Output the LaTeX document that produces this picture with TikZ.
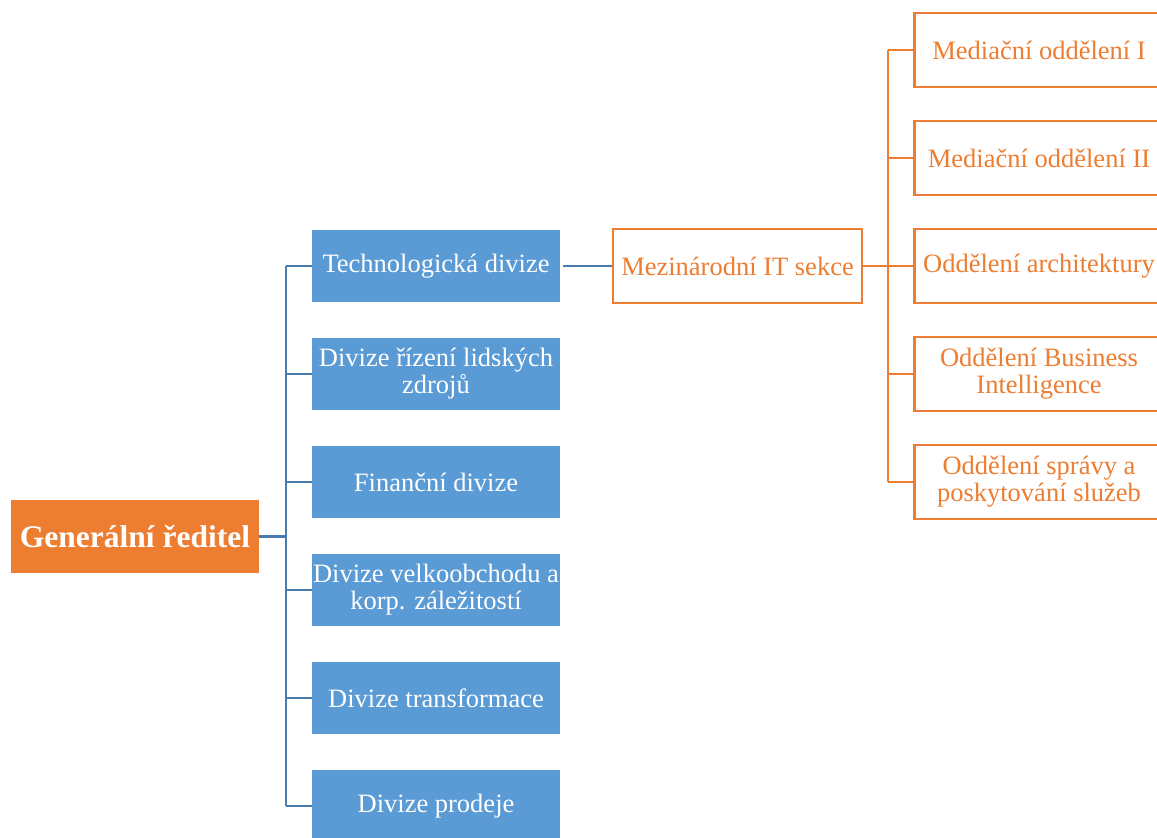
\documentclass[tikz,border=0pt]{standalone}
\usepackage{fontspec}
\setmainfont{Liberation Serif}
\definecolor{orgfill}{RGB}{237,125,49}
\definecolor{bluefill}{RGB}{91,155,213}
\definecolor{blueline}{RGB}{72,124,176}
\begin{document}
\begin{tikzpicture}[x=1pt,y=-1pt,
  rootbox/.style={fill=orgfill,draw=none,minimum width=248pt,minimum height=73pt,
    inner sep=0pt,text=white,font=\fontsize{31.5}{32}\selectfont\bfseries},
  divbox/.style={fill=bluefill,draw=none,minimum width=248pt,minimum height=72pt,
    inner sep=0pt,text=white,align=center,font=\fontsize{26.5}{27}\selectfont},
  secbox/.style={fill=white,draw=orgfill,line width=2.8pt,minimum width=249pt,minimum height=74pt,
    inner sep=0pt,text=orgfill,align=center,font=\fontsize{26.5}{27}\selectfont},
  blink/.style={draw=blueline,line width=2.8pt},
  olink/.style={draw=orgfill,line width=2.8pt}]
\clip (0,0) rectangle (1157,838);
\useasboundingbox (0,0) rectangle (1157,838);

% root
\node[rootbox] (root) at (135,536.5) {Generální ředitel};

% divisions
\node[divbox] (d1) at (436,266) {Technologická divize};
\node[divbox] (d2) at (436,374) {Divize řízení lidských\\zdrojů};
\node[divbox] (d3) at (436,482) {Finanční divize};
\node[divbox] (d4) at (436,590) {Divize velkoobchodu a\\korp. záležitostí};
\node[divbox] (d5) at (436,698) {Divize transformace};
\node[divbox] (d6) at (436,806) {Divize prodeje};

% international IT section
\node[secbox] (it) at (737.5,266) {Mezinárodní IT sekce};

% departments
\node[secbox] (o1) at (1039,50) {Mediační oddělení I};
\node[secbox] (o2) at (1039,158) {Mediační oddělení II};
\node[secbox] (o3) at (1039,266) {Oddělení architektury};
\node[secbox] (o4) at (1039,374) {Oddělení Business\\Intelligence};
\node[secbox] (o5) at (1039,482) {Oddělení správy a\\poskytování služeb};

% blue bus from the root
\coordinate (bb) at (286,536.5);
\draw[blink] (root.east) -- (bb);
\draw[blink] (bb |- d1.west) -- (bb |- d6.west);
\foreach \d in {d1,d2,d3,d4,d5,d6}
  \draw[blink] (bb |- \d.west) -- (\d.west);

% technology division to the IT section
\draw[blink] ([xshift=3pt]d1.east) -- (it.west);

% orange bus from the IT section
\coordinate (ob) at (888,266);
\draw[olink] (it.east) -- (ob);
\draw[olink] (ob |- o1.west) -- (ob |- o5.west);
\foreach \o in {o1,o2,o3,o4,o5}
  \draw[olink] (ob |- \o.west) -- (\o.west);
\end{tikzpicture}
\end{document}
